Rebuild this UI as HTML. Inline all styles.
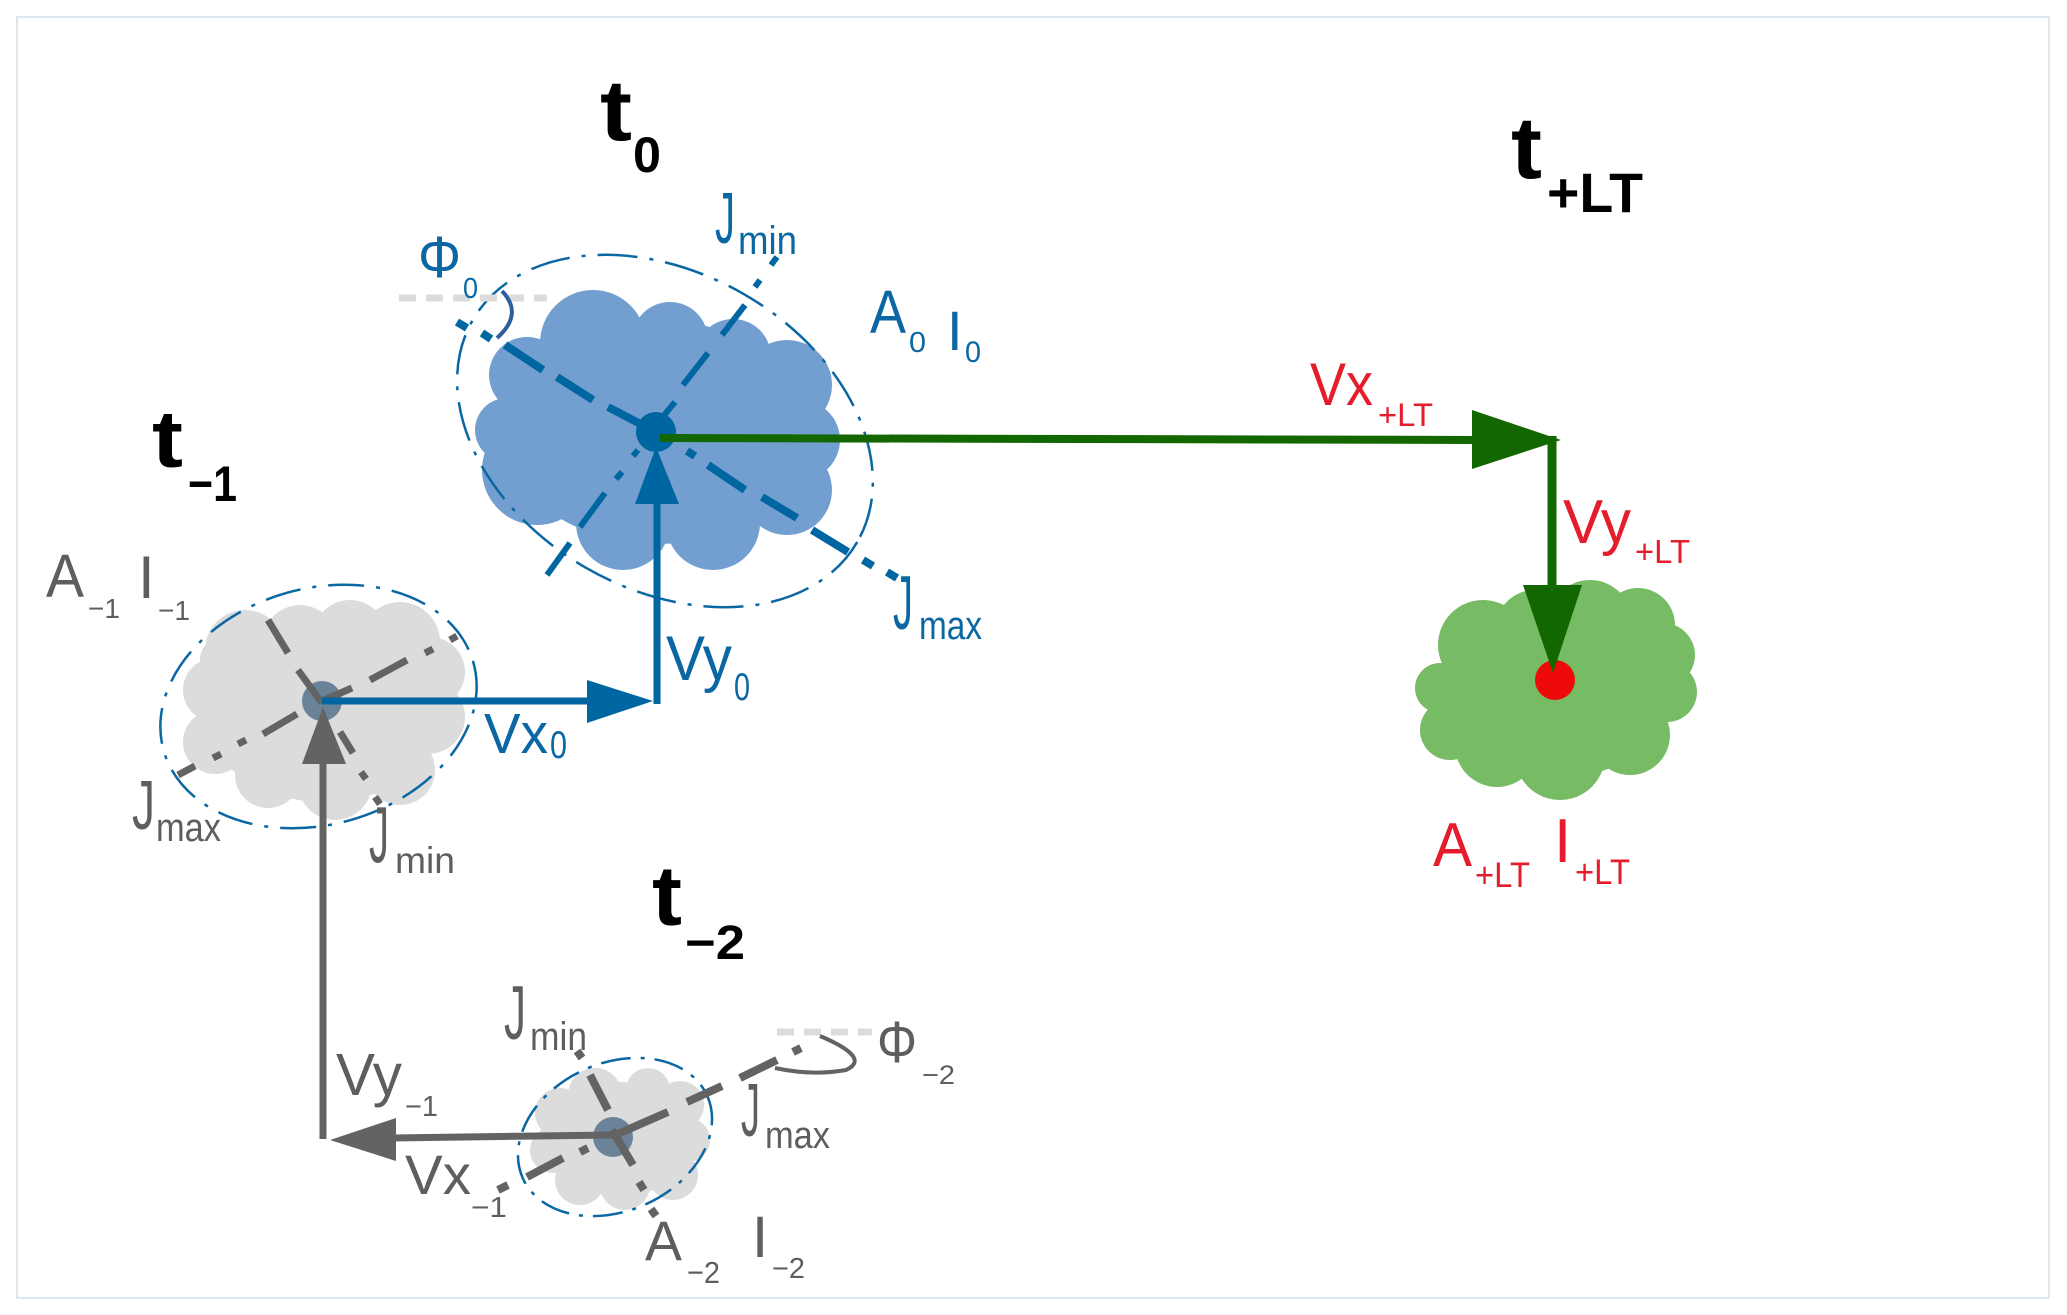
<!DOCTYPE html>
<html>
<head>
<meta charset="utf-8">
<style>
html,body{margin:0;padding:0;background:#ffffff;}
svg{display:block;}
text{font-family:"Liberation Sans", sans-serif;}
</style>
</head>
<body>
<svg width="2067" height="1315" viewBox="0 0 2067 1315" xmlns="http://www.w3.org/2000/svg">
<rect x="0" y="0" width="2067" height="1315" fill="#ffffff"/>
<rect x="17" y="17" width="2032" height="1281" fill="none" stroke="#dde5ee" stroke-width="2"/>

<!-- ============ CLOUDS ============ -->
<g fill="#729fcf">
  <ellipse cx="657" cy="432" rx="152" ry="112"/>
  <circle cx="593" cy="343" r="53"/>
  <circle cx="670" cy="340" r="38"/>
  <circle cx="733" cy="357" r="38"/>
  <circle cx="787" cy="385" r="45"/>
  <circle cx="800" cy="440" r="40"/>
  <circle cx="787" cy="490" r="45"/>
  <circle cx="713" cy="523" r="47"/>
  <circle cx="623" cy="523" r="47"/>
  <circle cx="537" cy="470" r="55"/>
  <circle cx="507" cy="430" r="32"/>
  <circle cx="527" cy="375" r="38"/>
</g>
<g fill="#dcdcdc">
  <ellipse cx="324" cy="712" rx="120" ry="90"/>
  <circle cx="245" cy="650" r="40"/>
  <circle cx="300" cy="642" r="37"/>
  <circle cx="350" cy="637" r="37"/>
  <circle cx="400" cy="642" r="40"/>
  <circle cx="430" cy="672" r="35"/>
  <circle cx="428" cy="717" r="37"/>
  <circle cx="400" cy="770" r="35"/>
  <circle cx="335" cy="783" r="37"/>
  <circle cx="268" cy="775" r="33"/>
  <circle cx="215" cy="742" r="32"/>
  <circle cx="215" cy="690" r="32"/>
  <circle cx="225" cy="660" r="25"/>
</g>
<g fill="#dcdcdc">
  <ellipse cx="620" cy="1139" rx="76" ry="57"/>
  <circle cx="560" cy="1113" r="25"/>
  <circle cx="595" cy="1095" r="27"/>
  <circle cx="648" cy="1090" r="22"/>
  <circle cx="680" cy="1105" r="24"/>
  <circle cx="688" cy="1140" r="22"/>
  <circle cx="673" cy="1175" r="25"/>
  <circle cx="625" cy="1185" r="25"/>
  <circle cx="580" cy="1180" r="25"/>
  <circle cx="553" cy="1150" r="23"/>
</g>
<g fill="#77bc65">
  <ellipse cx="1556" cy="690" rx="118" ry="88"/>
  <circle cx="1483" cy="645" r="45"/>
  <circle cx="1535" cy="630" r="40"/>
  <circle cx="1590" cy="622" r="42"/>
  <circle cx="1638" cy="625" r="37"/>
  <circle cx="1663" cy="655" r="32"/>
  <circle cx="1667" cy="692" r="30"/>
  <circle cx="1630" cy="735" r="40"/>
  <circle cx="1560" cy="755" r="45"/>
  <circle cx="1497" cy="745" r="42"/>
  <circle cx="1450" cy="730" r="30"/>
  <circle cx="1440" cy="688" r="25"/>
</g>

<!-- ============ ELLIPSES (dash-dot) ============ -->
<g fill="none" stroke="#0a67a3" stroke-width="2.5">
  <ellipse cx="665" cy="431" rx="222" ry="158" transform="rotate(30 665 431)" stroke-dasharray="40 12 4 12"/>
  <ellipse cx="318.5" cy="706.5" rx="161" ry="118" transform="rotate(-16 318.5 706.5)" stroke-dasharray="36 12 4 12"/>
  <ellipse cx="615" cy="1137" rx="101" ry="74" transform="rotate(-24 615 1137)" stroke-dasharray="30 10 4 10"/>
</g>

<!-- ============ PHI reference lines ============ -->
<line x1="399" y1="298" x2="547" y2="298" stroke="#dcdcdc" stroke-width="7" stroke-dasharray="17 10"/>
<line x1="777" y1="1032" x2="872" y2="1032" stroke="#dcdcdc" stroke-width="7" stroke-dasharray="17 10"/>
<path d="M502 291 Q524 314 497 338" fill="none" stroke="#2e5e9e" stroke-width="4"/>
<path d="M820 1036 Q872 1058 846 1070 Q812 1076 775 1068" fill="none" stroke="#636363" stroke-width="4"/>

<!-- ============ CENTER DOTS ============ -->
<circle cx="656" cy="432" r="20" fill="#0066a1"/>
<circle cx="322" cy="701" r="20" fill="#6b8398"/>
<circle cx="613" cy="1137" r="20" fill="#6b8398"/>

<!-- ============ AXES t0 ============ -->
<g stroke="#0066a1" stroke-width="8" stroke-linecap="butt">
  <line x1="457" y1="322" x2="467" y2="328"/>
  <line x1="482" y1="333" x2="491" y2="339"/>
  <line x1="505" y1="345" x2="543" y2="370"/>
  <line x1="557" y1="377" x2="593" y2="400"/>
  <line x1="608" y1="407" x2="656" y2="432"/>
  <line x1="687" y1="451" x2="695" y2="456"/>
  <line x1="708" y1="465" x2="745" y2="490"/>
  <line x1="762" y1="497" x2="797" y2="518"/>
  <line x1="812" y1="530" x2="848" y2="552"/>
  <line x1="863" y1="560" x2="873" y2="566"/>
  <line x1="887" y1="572" x2="897" y2="578"/>
</g>
<g stroke="#0066a1" stroke-width="6" stroke-linecap="butt">
  <line x1="777" y1="257" x2="771" y2="265"/>
  <line x1="760" y1="280" x2="755" y2="287"/>
  <line x1="745" y1="305" x2="722" y2="335"/>
  <line x1="708" y1="353" x2="683" y2="385"/>
  <line x1="675" y1="402" x2="656" y2="425"/>
  <line x1="638" y1="450" x2="633" y2="456"/>
  <line x1="622" y1="472" x2="616" y2="479"/>
  <line x1="605" y1="493" x2="580" y2="527"/>
  <line x1="570" y1="543" x2="547" y2="575"/>
</g>

<!-- ============ AXES t-1 ============ -->
<g stroke="#636363" stroke-width="7" stroke-linecap="butt">
  <line x1="178" y1="775" x2="195" y2="766"/>
  <line x1="213" y1="758" x2="221" y2="754"/>
  <line x1="238" y1="744" x2="246" y2="740"/>
  <line x1="263" y1="734" x2="297" y2="714"/>
  <line x1="322" y1="701" x2="352" y2="688"/>
  <line x1="370" y1="680" x2="407" y2="660"/>
  <line x1="425" y1="653" x2="433" y2="649"/>
  <line x1="450" y1="640" x2="457" y2="636"/>
  <line x1="268" y1="620" x2="288" y2="653"/>
  <line x1="298" y1="670" x2="322" y2="703"/>
  <line x1="340" y1="732" x2="353" y2="753"/>
  <line x1="361" y1="772" x2="366" y2="779"/>
  <line x1="375" y1="797" x2="380" y2="804"/>
</g>

<!-- ============ AXES t-2 ============ -->
<g stroke="#636363" stroke-width="8" stroke-linecap="butt">
  <line x1="498" y1="1190" x2="508" y2="1185"/>
  <line x1="527" y1="1177" x2="563" y2="1158"/>
  <line x1="580" y1="1152" x2="588" y2="1148"/>
  <line x1="613" y1="1136" x2="668" y2="1112"/>
  <line x1="687" y1="1102" x2="722" y2="1086"/>
  <line x1="740" y1="1078" x2="777" y2="1060"/>
  <line x1="793" y1="1052" x2="801" y2="1048"/>
  <line x1="577" y1="1051" x2="582" y2="1058"/>
  <line x1="590" y1="1075" x2="608" y2="1110"/>
  <line x1="612" y1="1130" x2="633" y2="1165"/>
  <line x1="639" y1="1182" x2="644" y2="1190"/>
  <line x1="651" y1="1209" x2="656" y2="1216"/>
</g>

<!-- ============ ARROWS ============ -->
<line x1="323" y1="1139" x2="323" y2="760" stroke="#636363" stroke-width="7"/>
<polygon points="302,764 323,707 346,764" fill="#636363"/>
<line x1="613" y1="1135" x2="392" y2="1138" stroke="#636363" stroke-width="7"/>
<polygon points="396,1118 330,1140 396,1161" fill="#636363"/>
<line x1="322" y1="701" x2="592" y2="701" stroke="#0066a1" stroke-width="7"/>
<polygon points="587,680 653,701 587,723" fill="#0066a1"/>
<line x1="657" y1="704" x2="657" y2="500" stroke="#0066a1" stroke-width="7"/>
<polygon points="635,504 656,447 679,504" fill="#0066a1"/>
<line x1="660" y1="438" x2="1476" y2="440" stroke="#126700" stroke-width="8"/>
<polygon points="1472,410 1561,440 1472,469" fill="#126700"/>
<line x1="1552" y1="436" x2="1552" y2="590" stroke="#126700" stroke-width="9"/>
<circle cx="1555" cy="680" r="20" fill="#ef0a0a"/>
<polygon points="1523,585 1582,585 1553,673" fill="#126700"/>

<!-- ============ TIME LABELS (bold black) ============ -->
<g fill="#000000" font-weight="bold">
  <text x="600" y="140" font-size="86" textLength="32" lengthAdjust="spacingAndGlyphs">t</text>
  <text x="633" y="172" font-size="50" textLength="28" lengthAdjust="spacingAndGlyphs">0</text>
  <text x="152" y="467" font-size="81" textLength="31" lengthAdjust="spacingAndGlyphs">t</text>
  <text x="188" y="501" font-size="50" textLength="49" lengthAdjust="spacingAndGlyphs">−1</text>
  <text x="1511" y="178" font-size="88" textLength="31" lengthAdjust="spacingAndGlyphs">t</text>
  <text x="1547" y="212" font-size="56" textLength="96" lengthAdjust="spacingAndGlyphs">+LT</text>
  <text x="652" y="925" font-size="84" textLength="30" lengthAdjust="spacingAndGlyphs">t</text>
  <text x="685" y="959" font-size="48" textLength="60" lengthAdjust="spacingAndGlyphs">−2</text>
</g>

<!-- ============ BLUE LABELS ============ -->
<g fill="#0a67a3">
  <text x="418" y="277" font-size="58" textLength="43" lengthAdjust="spacingAndGlyphs">Φ</text>
  <text x="463" y="298" font-size="29" textLength="15" lengthAdjust="spacingAndGlyphs">0</text>
  <text x="715" y="243" font-size="72" textLength="20" lengthAdjust="spacingAndGlyphs">J</text>
  <text x="738" y="254" font-size="40" textLength="59" lengthAdjust="spacingAndGlyphs">min</text>
  <text x="870" y="333" font-size="61" textLength="36" lengthAdjust="spacingAndGlyphs">A</text>
  <text x="909" y="352" font-size="29" textLength="17" lengthAdjust="spacingAndGlyphs">0</text>
  <text x="947" y="350" font-size="56">I</text>
  <text x="965" y="362" font-size="30" textLength="16" lengthAdjust="spacingAndGlyphs">0</text>
  <text x="893" y="629" font-size="76" textLength="20" lengthAdjust="spacingAndGlyphs">J</text>
  <text x="919" y="639" font-size="40" textLength="63" lengthAdjust="spacingAndGlyphs">max</text>
  <text x="666" y="680" font-size="63" textLength="66" lengthAdjust="spacingAndGlyphs">Vy</text>
  <text x="734" y="700" font-size="39" textLength="16" lengthAdjust="spacingAndGlyphs">0</text>
  <text x="484" y="753" font-size="57" textLength="64" lengthAdjust="spacingAndGlyphs">Vx</text>
  <text x="550" y="758" font-size="39" textLength="17" lengthAdjust="spacingAndGlyphs">0</text>
</g>

<!-- ============ GRAY LABELS ============ -->
<g fill="#5e5e5e">
  <text x="46" y="597" font-size="61" textLength="38" lengthAdjust="spacingAndGlyphs">A</text>
  <text x="88" y="618" font-size="28" textLength="32" lengthAdjust="spacingAndGlyphs">−1</text>
  <text x="138" y="598" font-size="60">I</text>
  <text x="158" y="620" font-size="28" textLength="32" lengthAdjust="spacingAndGlyphs">−1</text>
  <text x="132" y="829" font-size="70" textLength="23" lengthAdjust="spacingAndGlyphs">J</text>
  <text x="156" y="841" font-size="40" textLength="65" lengthAdjust="spacingAndGlyphs">max</text>
  <text x="369" y="862" font-size="80" textLength="20" lengthAdjust="spacingAndGlyphs">J</text>
  <text x="395" y="873" font-size="37" textLength="60" lengthAdjust="spacingAndGlyphs">min</text>
  <text x="504" y="1039" font-size="76" textLength="22" lengthAdjust="spacingAndGlyphs">J</text>
  <text x="530" y="1050" font-size="40" textLength="57" lengthAdjust="spacingAndGlyphs">min</text>
  <text x="741" y="1136" font-size="75" textLength="19" lengthAdjust="spacingAndGlyphs">J</text>
  <text x="765" y="1148" font-size="38" textLength="65" lengthAdjust="spacingAndGlyphs">max</text>
  <text x="336" y="1095" font-size="59" textLength="66" lengthAdjust="spacingAndGlyphs">Vy</text>
  <text x="405" y="1116" font-size="29" textLength="33" lengthAdjust="spacingAndGlyphs">−1</text>
  <text x="405" y="1194" font-size="56" textLength="66" lengthAdjust="spacingAndGlyphs">Vx</text>
  <text x="471" y="1217" font-size="29" textLength="36" lengthAdjust="spacingAndGlyphs">−1</text>
  <text x="645" y="1260" font-size="56" textLength="37" lengthAdjust="spacingAndGlyphs">A</text>
  <text x="687" y="1283" font-size="31" textLength="33" lengthAdjust="spacingAndGlyphs">−2</text>
  <text x="752" y="1257" font-size="58">I</text>
  <text x="772" y="1278" font-size="29" textLength="33" lengthAdjust="spacingAndGlyphs">−2</text>
  <text x="877" y="1062" font-size="58" textLength="40" lengthAdjust="spacingAndGlyphs">Φ</text>
  <text x="922" y="1084" font-size="27" textLength="33" lengthAdjust="spacingAndGlyphs">−2</text>
</g>

<!-- ============ RED LABELS ============ -->
<g fill="#e51c2b">
  <text x="1310" y="405" font-size="60" textLength="63" lengthAdjust="spacingAndGlyphs">Vx</text>
  <text x="1378" y="426" font-size="32" textLength="55" lengthAdjust="spacingAndGlyphs">+LT</text>
  <text x="1563" y="543" font-size="62" textLength="68" lengthAdjust="spacingAndGlyphs">Vy</text>
  <text x="1635" y="563" font-size="33" textLength="55" lengthAdjust="spacingAndGlyphs">+LT</text>
  <text x="1433" y="866" font-size="62" textLength="39" lengthAdjust="spacingAndGlyphs">A</text>
  <text x="1475" y="887" font-size="35" textLength="55" lengthAdjust="spacingAndGlyphs">+LT</text>
  <text x="1554" y="862" font-size="62">I</text>
  <text x="1575" y="884" font-size="35" textLength="55" lengthAdjust="spacingAndGlyphs">+LT</text>
</g>
</svg>
</body>
</html>
